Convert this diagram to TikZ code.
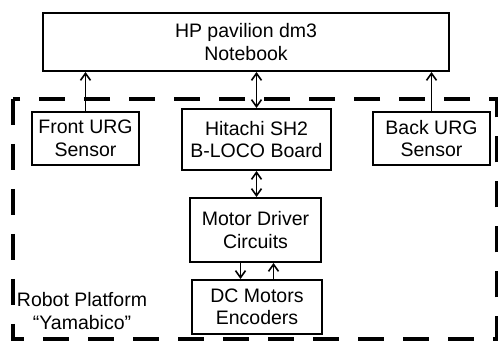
\documentclass[tikz,border=0pt]{standalone}
\usepackage{fontspec}
\setmainfont{Liberation Sans}
\usepackage{tikz}
\usetikzlibrary{arrows.meta}

\begin{document}
\begin{tikzpicture}[x=0.5pt, y=-0.5pt, >={Straight Barb[length=3.5pt,width=5pt]},
    blk/.style={draw, line width=1pt, inner sep=0pt, align=center, font=\fontsize{9.75}{11.25}\selectfont},
    link/.style={line width=0.8pt}]
    \useasboundingbox (0,0) rectangle (498,341);
    \draw[line width=1.8pt, dash pattern=on 13pt off 9.5pt] (13,99) rectangle (496.5,339);
    \node[blk, minimum width=203pt, minimum height=29pt] (nb) at (246,42) {HP pavilion dm3\\Notebook};
    \node[blk, minimum width=53.5pt, minimum height=26.5pt] (furg) at (85.5,138.5) {Front URG\\Sensor};
    \node[blk, minimum width=74.5pt, minimum height=30.5pt] (sh2) at (256.5,139.5) {Hitachi SH2\\B-LOCO Board};
    \node[blk, minimum width=58.5pt, minimum height=26.5pt] (burg) at (431.5,138.5) {Back URG\\Sensor};
    \node[blk, minimum width=65.5pt, minimum height=32pt] (mdc) at (255.5,230) {Motor Driver\\Circuits};
    \node[blk, minimum width=65pt, minimum height=27pt] (dcm) at (257,307) {DC Motors\\Encoders};
    \node[font=\fontsize{9.75}{11.25}\selectfont, align=center] (plat) at (82,311) {Robot Platform\\``Yamabico''};
    \draw[link, ->] (furg.north) -- (furg.north |- nb.south);
    \draw[link, ->] (burg.north) -- (burg.north |- nb.south);
    \draw[link, <->] (sh2.north) -- (sh2.north |- nb.south);
    \draw[link, <->] (sh2.south) -- (sh2.south |- mdc.north);
    \draw[link, ->] ([xshift=-7.5pt]mdc.south) -- ([xshift=-7.5pt]mdc.south |- dcm.north);
    \draw[link, <-] ([xshift=9pt]mdc.south) -- ([xshift=9pt]mdc.south |- dcm.north);
\end{tikzpicture}
\end{document}
